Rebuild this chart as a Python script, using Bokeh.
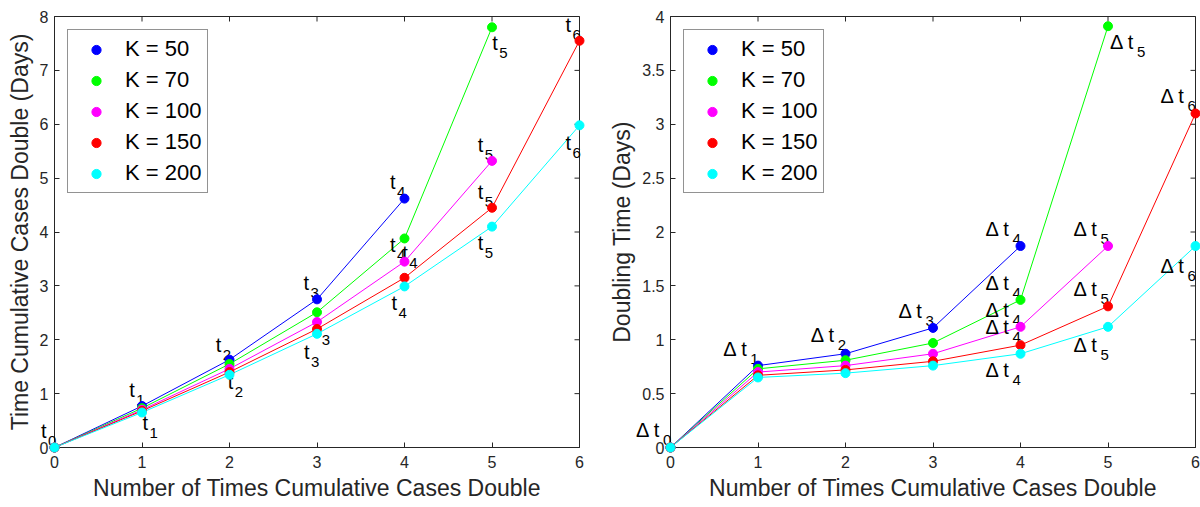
import math
from bokeh.plotting import figure
from bokeh.layouts import row
from bokeh.models import (Range1d, FixedTicker, Legend, LegendItem,
                          ColumnDataSource, NumeralTickFormatter)
from bokeh.core.properties import value
from bokeh.embed import file_html
from bokeh.resources import INLINE

# ---------------- data ----------------
n_double = [0, 1, 2, 3, 4, 5, 6]
k_labels = ["K = 50", "K = 70", "K = 100", "K = 150", "K = 200"]
colors = ["#0000ff", "#00ff00", "#ff00ff", "#ff0000", "#00ffff"]

# time until cumulative cases double n times (days)
cum_k50 = [0, 0.77, 1.63, 2.75, 4.62]
cum_k70 = [0, 0.73, 1.55, 2.51, 3.88, 7.80]
cum_k100 = [0, 0.70, 1.46, 2.33, 3.45, 5.32]
cum_k150 = [0, 0.68, 1.40, 2.20, 3.15, 4.45, 7.55]
cum_k200 = [0, 0.65, 1.35, 2.11, 2.99, 4.10, 5.98]

# doubling time (days)
dbl_k50 = [0, 0.76, 0.87, 1.11, 1.87]
dbl_k70 = [0, 0.73, 0.81, 0.97, 1.37, 3.91]
dbl_k100 = [0, 0.70, 0.76, 0.87, 1.12, 1.87]
dbl_k150 = [0, 0.67, 0.72, 0.80, 0.95, 1.31, 3.10]
dbl_k200 = [0, 0.65, 0.69, 0.76, 0.87, 1.12, 1.87]

left_ticks_y = [0, 1, 2, 3, 4, 5, 6, 7, 8]
right_ticks_y = [0, 0.5, 1, 1.5, 2, 2.5, 3, 3.5, 4]

# annotation text anchors (data coords) and subscripts
left_ann_x = [-0.154, 0.854, 1.007, 1.844, 1.98, 2.845, 2.852, 2.974, 3.833, 3.833,
              3.975, 3.85, 5.003, 4.838, 4.838, 4.838, 5.839, 5.839]
left_ann_y = [0.223, 0.996, 0.377, 1.831, 1.145, 2.987, 1.707, 2.104, 4.861, 3.686,
              3.531, 2.603, 7.426, 5.542, 4.675, 3.716, 7.768, 5.571]
left_ann_sub = ["0", "1", "1", "2", "2", "3", "3", "3", "4", "4",
                "4", "4", "5", "5", "5", "5", "6", "6"]

right_ann_x = [-0.394, 0.604, 1.602, 2.606, 3.6, 3.6, 3.6, 3.6, 3.6,
               5.022, 4.606, 4.606, 4.606, 5.6, 5.6]
right_ann_y = [0.127, 0.875, 1.008, 1.234, 1.992, 1.494, 1.24, 1.079, 0.684,
               3.723, 1.992, 1.435, 0.916, 3.228, 1.651]
right_ann_sub = ["0", "1", "2", "3", "4", "4", "4", "4", "4",
                 "5", "5", "5", "5", "6", "6"]

FONT = "Liberation Sans"
AX = "#262626"


def make_fig(series, ymax, yticks, ylabel, border_left, border_right,
             ann_x, ann_y, ann_sub, main_text, sub_dx, yfmt=None):
    p = figure(width=600, height=507, x_range=Range1d(0, 6), y_range=Range1d(0, ymax),
               output_backend="svg", toolbar_location=None,
               min_border_left=border_left, min_border_right=border_right,
               min_border_top=16, min_border_bottom=60)
    p.grid.visible = False
    p.outline_line_color = AX
    p.background_fill_color = "white"
    p.border_fill_color = "white"

    p.xaxis.ticker = FixedTicker(ticks=n_double)
    p.yaxis.ticker = FixedTicker(ticks=yticks)
    for ax in p.xaxis + p.yaxis:
        ax.axis_line_color = AX
        ax.major_tick_line_color = AX
        ax.major_tick_in = 5
        ax.major_tick_out = 0
        ax.minor_tick_line_color = None
        ax.major_label_text_font = FONT
        ax.major_label_text_color = AX
        ax.major_label_text_font_size = "16px"
        ax.axis_label_text_font = FONT
        ax.axis_label_text_font_size = "23px"
        ax.axis_label_text_font_style = "normal"
        ax.axis_label_text_color = AX
        ax.axis_label_standoff = 4
    p.xaxis.major_label_standoff = 8
    p.yaxis.major_label_standoff = 6
    p.xaxis.axis_label = "Number of Times Cumulative Cases Double"
    p.yaxis.axis_label = ylabel
    if yfmt is not None:
        p.yaxis.formatter = yfmt

    # inward ticks on the top and right edges of the box (half clipped by frame)
    p.scatter(n_double, [ymax] * len(n_double), marker="dash", size=10,
              angle=math.pi / 2, line_color=AX, line_width=1)
    p.scatter([6] * len(yticks), yticks, marker="dash", size=10,
              line_color=AX, line_width=1)

    for vals, col in zip(series, colors):
        xs = n_double[:len(vals)]
        p.line(xs, vals, line_color=col, line_width=1)

    # point annotations (drawn unclipped, under the markers)
    src = ColumnDataSource(dict(x=ann_x, y=ann_y, main=[main_text] * len(ann_x), sub=ann_sub))
    p.text(x="x", y="y", text="main", source=src, text_font=value(FONT),
           text_font_size="20px", text_color="black",
           text_baseline="alphabetic", text_align="left",
           y_offset=-4, level="overlay")
    p.text(x="x", y="y", text="sub", source=src, text_font=value(FONT),
           text_font_size="15px", text_color="black",
           text_baseline="alphabetic", text_align="left",
           x_offset=sub_dx, y_offset=6, level="overlay")

    items = []
    for vals, col, lab in zip(series, colors, k_labels):
        xs = n_double[:len(vals)]
        r = p.scatter(xs, vals, size=9, fill_color=col, line_color=col, level="overlay")
        items.append(LegendItem(label=lab, renderers=[r]))

    legend = Legend(items=items, location="top_left", margin=13)
    legend.label_text_font = FONT
    legend.label_text_font_size = "22px"
    legend.label_text_color = "black"
    legend.glyph_height = 23
    legend.glyph_width = 44
    legend.label_height = 23
    legend.spacing = 5
    legend.padding = 6
    legend.label_standoff = 7
    legend.border_line_color = AX
    legend.border_line_width = 1
    legend.background_fill_color = "white"
    legend.background_fill_alpha = 1
    p.add_layout(legend)
    return p


p1 = make_fig([cum_k50, cum_k70, cum_k100, cum_k150, cum_k200], 8, left_ticks_y,
              "Time Cumulative Cases Double (Days)", 54, 21,
              left_ann_x, left_ann_y, left_ann_sub, "t", 7)
p2 = make_fig([dbl_k50, dbl_k70, dbl_k100, dbl_k150, dbl_k200], 4, right_ticks_y,
              "Doubling Time (Days)", 70, 5,
              right_ann_x, right_ann_y, right_ann_sub, "\u0394 t", 27,
              yfmt=NumeralTickFormatter(format="0.[0]"))

layout = row(p1, p2)
open("out.html", "w").write(file_html(layout, INLINE))
